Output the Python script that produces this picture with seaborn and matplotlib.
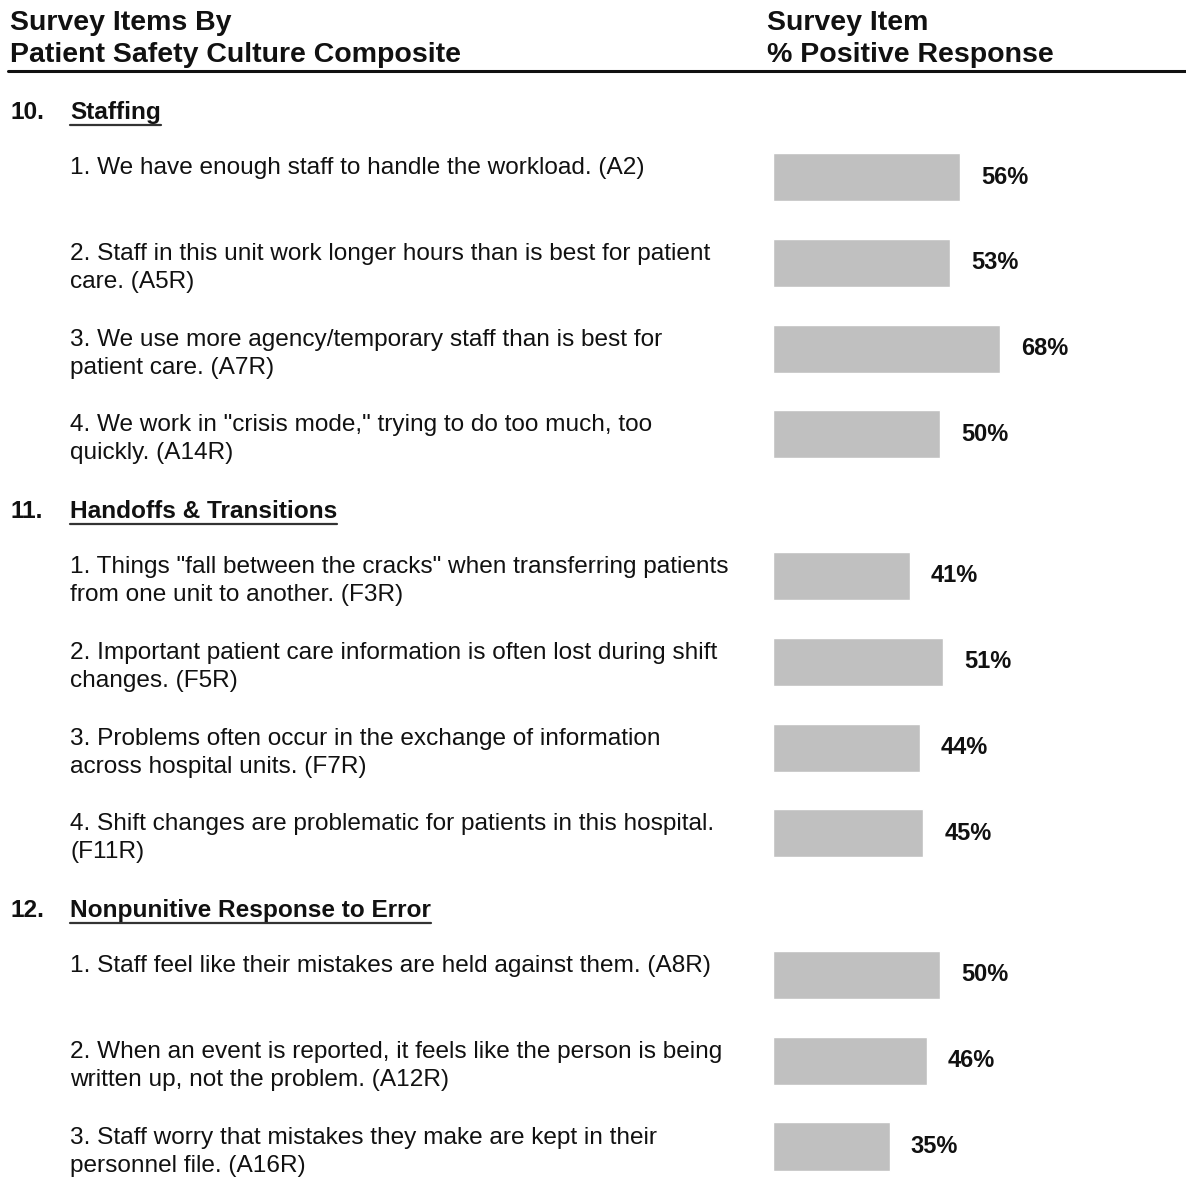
import seaborn as sns
import pandas as pd
from matplotlib import pyplot as plt
from matplotlib import transforms
from matplotlib.lines import Line2D

# composites and their survey items (% positive response)
section_nums = ["10.", "11.", "12."]
sections = ["Staffing", "Handoffs & Transitions", "Nonpunitive Response to Error"]

staffing_items = [
    "1. We have enough staff to handle the workload. (A2)",
    "2. Staff in this unit work longer hours than is best for patient\ncare. (A5R)",
    "3. We use more agency/temporary staff than is best for\npatient care. (A7R)",
    "4. We work in \"crisis mode,\" trying to do too much, too\nquickly. (A14R)",
]
staffing_pct = [56, 53, 68, 50]

handoff_items = [
    "1. Things \"fall between the cracks\" when transferring patients\nfrom one unit to another. (F3R)",
    "2. Important patient care information is often lost during shift\nchanges. (F5R)",
    "3. Problems often occur in the exchange of information\nacross hospital units. (F7R)",
    "4. Shift changes are problematic for patients in this hospital.\n(F11R)",
]
handoff_pct = [41, 51, 44, 45]

nonpunitive_items = [
    "1. Staff feel like their mistakes are held against them. (A8R)",
    "2. When an event is reported, it feels like the person is being\nwritten up, not the problem. (A12R)",
    "3. Staff worry that mistakes they make are kept in their\npersonnel file. (A16R)",
]
nonpunitive_pct = [50, 46, 35]

item_lists = [staffing_items, handoff_items, nonpunitive_items]
pct_lists = [staffing_pct, handoff_pct, nonpunitive_pct]

# row positions: one unit per item, extra gap for each section heading
gap = 0.65
rows = []
start = 0.0
section_start = []
for s, (items, pcts) in enumerate(zip(item_lists, pct_lists)):
    section_start.append(start)
    for i, (txt, p) in enumerate(zip(items, pcts)):
        rows.append({"section": s, "item": txt, "pct": p, "ypos": start + i})
    start += len(items) + gap
df = pd.DataFrame(rows)

sns.set_style("white")
plt.rcParams["font.family"] = ["Liberation Sans", "DejaVu Sans"]
plt.rcParams["text.color"] = "#111111"

W, H = 1186, 1178
fig = plt.figure(figsize=(W / 100, H / 100), dpi=100)
ax = fig.add_axes([773 / W, 0, 334 / W, 1])

sns.barplot(data=df, x="pct", y="ypos", orient="h", native_scale=True,
            color="#c0c0c0", saturation=1, width=0.56, errorbar=None, ax=ax)
ax.bar_label(ax.containers[0], fmt="{:.0f}%", padding=15,
             fontsize=17, fontweight="bold", color="#111111")
ax.set_xlim(0, 100)
ax.set_ylim(11.667, -2.063)
ax.axis("off")

trans = transforms.blended_transform_factory(fig.transFigure, ax.transData)

# item texts, line by line
line_step = 28 / 85.8
for _, r in df.iterrows():
    for k, line in enumerate(r["item"].split("\n")):
        fig.text(70 / W, r["ypos"] - 0.105 + k * line_step, line,
                 transform=trans, fontsize=17.6, va="center", ha="left")

# section headings
heads = []
for s in range(len(sections)):
    y = section_start[s] - 0.75
    fig.text(10 / W, y, section_nums[s], transform=trans, fontsize=17.6,
             fontweight="bold", va="center")
    heads.append(fig.text(70 / W, y, sections[s], transform=trans, fontsize=17.6,
                          fontweight="bold", va="center"))

# column headers
for x, lines in [(10, ["Survey Items By", "Patient Safety Culture Composite"]),
                 (767, ["Survey Item", "% Positive Response"])]:
    for k, line in enumerate(lines):
        fig.text(x / W, 1 - (23 + 32 * k) / H, line, fontsize=20.5,
                 fontweight="bold", va="center")

fig.add_artist(Line2D([8 / W, 1], [1 - 71 / H, 1 - 71 / H],
                      transform=fig.transFigure, lw=2.2, color="#111111"))

# underline the section headings
fig.canvas.draw()
renderer = fig.canvas.get_renderer()
for t in heads:
    bb = t.get_window_extent(renderer)
    yline = bb.y0 - 1
    fig.add_artist(Line2D([bb.x0 / W, bb.x1 / W], [yline / H, yline / H],
                          transform=fig.transFigure, lw=1.6, color="#333333"))

plt.savefig("out.png", dpi=100)
